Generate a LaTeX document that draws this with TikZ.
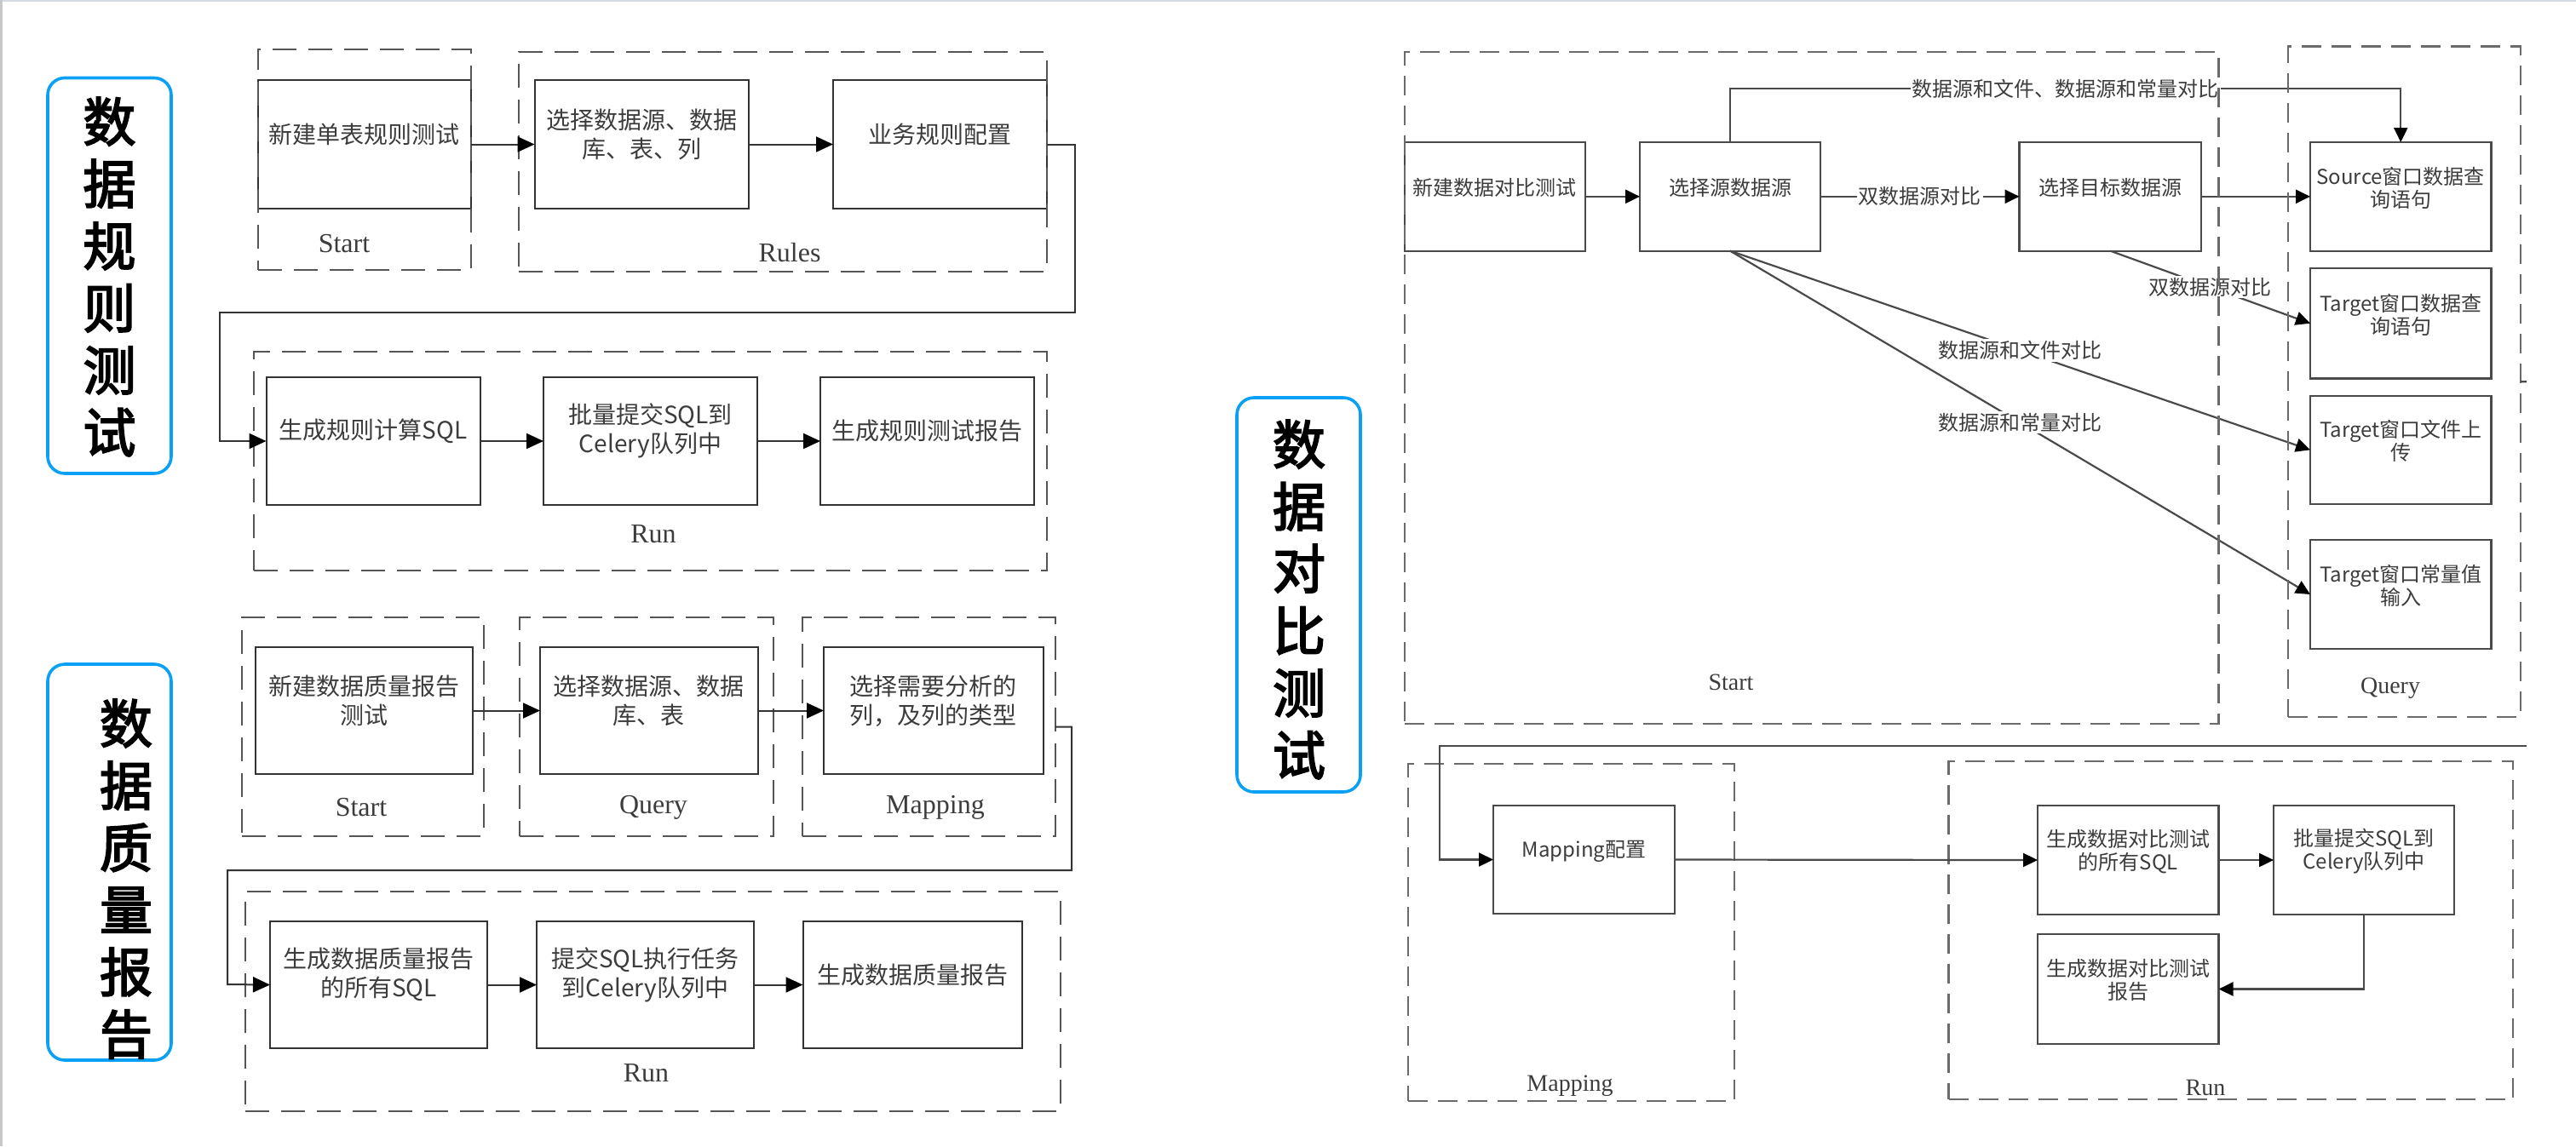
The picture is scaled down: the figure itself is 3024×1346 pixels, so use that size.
\documentclass[tikz,border=0pt]{standalone}
\usepackage{fontspec}
\setmainfont{Noto Sans CJK SC}
\newfontfamily\headfont{Noto Sans CJK SC}[FakeBold=3]
\newfontfamily\latinserif{Liberation Serif}
\usetikzlibrary{arrows.meta,fit}
\definecolor{headblue}{HTML}{0AA0F5}
\definecolor{linegray}{HTML}{333333}
\definecolor{rline}{HTML}{4A4A4A}
\definecolor{dashgray}{HTML}{555555}
\definecolor{rdash}{HTML}{6A6A6A}
\definecolor{txtgray}{HTML}{3C3C3C}
\definecolor{framegray}{HTML}{C8C8C8}
\definecolor{topgray}{HTML}{D6DAE2}
\tikzset{
  every node/.style={inner sep=0pt, outer sep=0pt},
  lbox/.style={draw=linegray, line width=1pt, text=txtgray, align=center,
    font=\fontsize{14pt}{17pt}\selectfont},
  rbox/.style={draw=rline, line width=1.1pt, text=txtgray, align=center,
    font=\fontsize{12pt}{13.5pt}\selectfont},
  lgrp/.style={draw=dashgray, line width=1pt, dash pattern=on 14pt off 7pt},
  rgrp/.style={draw=rdash, line width=1.1pt, dash pattern=on 11.5pt off 6pt},
  glabl/.style={text=txtgray, font=\latinserif\fontsize{16pt}{16pt}\selectfont},
  glabr/.style={text=txtgray, font=\latinserif\fontsize{14pt}{14pt}\selectfont},
  larr/.style={draw=linegray, line width=1pt, -{Triangle[length=10pt,width=9pt,black]}},
  rarr/.style={draw=rline, line width=1.1pt, -{Triangle[length=8.5pt,width=8pt,black]}},
  rplain/.style={draw=rline, line width=1.1pt},
  headbox/.style={draw=headblue, line width=1.8pt, rounded corners=10pt},
  headtext/.style={text=black, align=center, font=\headfont\fontsize{31pt}{36.5pt}\selectfont},
  elabel/.style={fill=white, text=txtgray, inner sep=1pt, font=\fontsize{12pt}{12pt}\selectfont},
}
\begin{document}
\begin{tikzpicture}[x=0.5pt,y=-0.5pt]
\useasboundingbox (0,0) rectangle (3024,1346);
% frame
\draw[topgray, line width=0.8pt] (0,0.8) -- (3024,0.8);
\draw[framegray, line width=1.4pt] (1.4,0) -- (1.4,1346);

% ===== heading boxes =====
\node[headbox, fit={(56,91.5)(201,556)}] (h1) {};
\node[headtext] (h1t) at (128.5,325) {数\\据\\规\\则\\测\\试};
\node[headbox, fit={(56,780)(201,1245)}] (h2) {};
\node[headtext] (h2t) at (148,1032) {数\\据\\质\\量\\报\\告};
\node[headbox, fit={(1452,467)(1597,930)}] (h3) {};
\node[headtext] (h3t) at (1525,704) {数\\据\\对\\比\\测\\试};

% ===== section 1 =====
\node[lbox, fit={(302.6,94)(553,245)}] (b11) {新建单表规则测试};
\node[lbox, fit={(627.5,94)(879,245)}] (b12) {选择数据源、数据\\库、表、列};
\node[lbox, fit={(978,94)(1229,245)}] (b13) {业务规则配置};
\node[lbox, fit={(312.5,443)(564,593)}] (b14) {生成规则计算SQL};
\node[lbox, fit={(638,443)(889,593)}] (b15) {批量提交SQL到\\Celery队列中};
\node[lbox, fit={(963,443)(1214,593)}] (b16) {生成规则测试报告};
\node[lgrp, fit={(302.6,58)(553,317)}] (g1s) {};
\node[lgrp, fit={(609,61)(1229,319)}] (g1r) {};
\node[lgrp, fit={(298,413)(1229,670)}] (g1u) {};
\node[glabl] (l1s) at (404,286) {Start};
\node[glabl] (l1r) at (927,297) {Rules};
\node[glabl] (l1u) at (767,627) {Run};
\coordinate (c1a) at (1262,367);
\coordinate (c1b) at (258,518);
\draw[larr] (b11.east) -- (b12.west);
\draw[larr] (b12.east) -- (b13.west);
\draw[larr] (b13.east) -| (c1a) -| (c1b) -- (b14.west);
\draw[larr] (b14.east) -- (b15.west);
\draw[larr] (b15.east) -- (b16.west);

% ===== section 2 =====
\node[lbox, fit={(300,760)(555,909)}] (b21) {新建数据质量报告\\测试};
\node[lbox, fit={(634,760)(889.5,909)}] (b22) {选择数据源、数据\\库、表};
\node[lbox, fit={(967,760)(1224.5,909)}] (b23) {选择需要分析的\\列，及列的类型};
\node[lbox, fit={(317,1082)(572,1231)}] (b24) {生成数据质量报告\\的所有SQL};
\node[lbox, fit={(630,1082)(885,1231)}] (b25) {提交SQL执行任务\\到Celery队列中};
\node[lbox, fit={(942.5,1082)(1200,1231)}] (b26) {生成数据质量报告};
\node[lgrp, fit={(284,725)(568,982)}] (g2s) {};
\node[lgrp, fit={(610,725)(908,982)}] (g2q) {};
\node[lgrp, fit={(942,725)(1239,982)}] (g2m) {};
\node[lgrp, fit={(288,1047)(1245,1305)}] (g2u) {};
\node[glabl] (l2s) at (424,948) {Start};
\node[glabl] (l2q) at (767,948) {Query};
\node[glabl] (l2m) at (1098,948) {Mapping};
\node[glabl] (l2u) at (758.5,1260) {Run};
\coordinate (c2a) at (1258,1022);
\coordinate (c2b) at (267,1156);
\draw[larr] (b21.east) -- (b22.west);
\draw[larr] (b22.east) -- (b23.west);
\draw[larr] (g2m.east) -| (c2a) -| (c2b) -- (b24.west);
\draw[larr] (b24.east) -- (b25.west);
\draw[larr] (b25.east) -- (b26.west);

% ===== section 3 =====
\node[rbox, fit={(1648.6,167)(1861,294.6)}] (b31) {新建数据对比测试};
\node[rbox, fit={(1925,167)(2137,294.6)}] (b32) {选择源数据源};
\node[rbox, fit={(2370.5,167)(2584,294.6)}] (b33) {选择目标数据源};
\node[rbox, fit={(2712,167)(2924.5,294.6)}] (q1) {Source窗口数据查\\询语句};
\node[rbox, fit={(2712,315)(2924.5,444.5)}] (q2) {Target窗口数据查\\询语句};
\node[rbox, fit={(2712,464.7)(2924.5,592)}] (q3) {Target窗口文件上\\传};
\node[rbox, fit={(2712,634)(2924.5,762)}] (q4) {Target窗口常量值\\输入};
\node[rbox, fit={(1753,946)(1966,1073)}] (m1) {Mapping配置};
\node[rbox, fit={(2392,946)(2604.5,1074)}] (b34) {生成数据对比测试\\的所有SQL};
\node[rbox, fit={(2669,946)(2881,1074)}] (b35) {批量提交SQL到\\Celery队列中};
\node[rbox, fit={(2392,1097)(2604.5,1226)}] (b36) {生成数据对比测试\\报告};

\coordinate (c3t) at (2818.25,104);
\draw[rarr] (b31.east) -- (b32.west);
\draw[rarr] (b32.east) -- node[elabel] (e1) {双数据源对比} (b33.west);
\draw[rarr] (b33.east) -- (q1.west);
\draw[rarr] (b32.north) |- node[elabel, pos=0.75] (e2) {数据源和文件、数据源和常量对比} (c3t) -- (q1.north);
\draw[rarr] (b33.south) -- node[elabel] (e3) {双数据源对比} (q2.west);
\draw[rarr] (b32.south) -- node[elabel] (e4) {数据源和文件对比} (q3.west);
\draw[rarr] (b32.south) -- node[elabel] (e5) {数据源和常量对比} (q4.west);

\node[rgrp, fit={(1648.6,60.6)(2604.5,850)}] (g3s) {};
\node[rgrp, fit={(2686,54.4)(2959,842)}] (g3q) {};
\node[rgrp, fit={(1653,897)(2036,1293)}] (g3m) {};
\node[rgrp, fit={(2287.5,894)(2950,1291)}] (g3u) {};
\node[glabr] (l3s) at (2032,801) {Start};
\node[glabr] (l3q) at (2806,808) {Query};
\node[glabr] (l3m) at (1843,1275) {Mapping};
\node[glabr] (l3u) at (2589,1277) {Run};

\coordinate (c3s) at (2966,448.2);
\coordinate (c3a) at (2966,876);
\coordinate (c3b) at (1690,1009.5);
\draw[rplain] (g3q.east) -- (c3s);
\draw[rarr] (c3a) -| (c3b) -- (m1.west);
\draw[rarr] (m1.east) -- (b34.west);
\draw[rarr] (b34.east) -- (b35.west);
\draw[rarr] (b35.south) |- (b36.east);
\end{tikzpicture}
\end{document}
